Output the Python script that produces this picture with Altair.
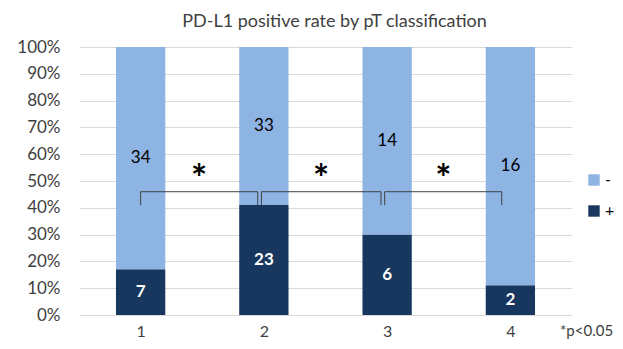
import altair as alt
import pandas as pd

# ---- data ----
categories = [1, 2, 3, 4]
positive = [7, 23, 6, 2]      # "+" (dark)
negative = [34, 33, 14, 16]   # "-" (light)

# significance brackets (x in category units, y in fraction of 100%)
bracket_from = [1.0, 1.98, 2.98]
bracket_to = [1.95, 2.95, 3.93]
bracket_top = 0.46
bracket_foot = 0.41
star_y = 0.54

y_ticks = [0.0, 0.1, 0.2, 0.3, 0.4, 0.5, 0.6, 0.7, 0.8, 0.9, 1.0]
title_text = "PD-L1 positive rate by pT classification"
note_text = "*p<0.05"

LIGHT = "#8EB4E3"
DARK = "#17375E"
TXT = "#404040"
FONT = "Lato"

rows = []
for c, p, n in zip(categories, positive, negative):
    t = p + n
    rows.append({"cat": c, "series": "+", "count": p, "y0": 0.0, "y1": p / t})
    rows.append({"cat": c, "series": "-", "count": n, "y0": p / t, "y1": 1.0})
df = pd.DataFrame(rows)

br_rows = []
for a, b in zip(bracket_from, bracket_to):
    br_rows.append({"a": a, "b": b, "top": bracket_top, "foot": bracket_foot})
br = pd.DataFrame(br_rows)
ends = pd.DataFrame(
    [{"x": v, "top": bracket_top, "foot": bracket_foot} for v in bracket_from + bracket_to]
)

xscale = alt.Scale(domain=[0.5, 4.5], nice=False, zero=False)
yscale = alt.Scale(domain=[0, 1], nice=False, zero=True)

xaxis = alt.Axis(values=categories, format="d", grid=False, domain=False, ticks=False,
                 labelFontSize=16, labelColor=TXT, labelFont=FONT, labelPadding=8, title=None)
yaxis = alt.Axis(values=y_ticks, format=".0%", grid=True,
                 gridColor="#D9D9D9", domain=False, ticks=False, labelFontSize=17,
                 labelColor=TXT, labelFont=FONT, labelPadding=19, title=None,
                 labelOverlap=False)


def X(field):
    return alt.X(field, scale=xscale, axis=xaxis)


def Y(field):
    return alt.Y(field, scale=yscale, axis=yaxis)


base = alt.Chart(df).transform_calculate(
    xl="datum.cat - 0.2", xr="datum.cat + 0.2", ym="(datum.y0 + datum.y1) / 2"
)

bars = base.mark_bar().encode(
    x=X("xl:Q"),
    x2="xr:Q",
    y=Y("y0:Q"),
    y2="y1:Q",
    color=alt.Color("series:N",
                    scale=alt.Scale(domain=["-", "+"], range=[LIGHT, DARK]),
                    legend=alt.Legend(orient="none", legendX=507, legendY=125, title=None,
                                      symbolType="square", symbolSize=130,
                                      symbolStrokeWidth=0, labelFontSize=16,
                                      labelFont=FONT, labelColor="#000000",
                                      rowPadding=15, labelOffset=3)),
)

neg_txt = base.transform_filter("datum.series == '-'").mark_text(
    font=FONT, fontSize=17, color="#000000", baseline="middle"
).encode(x=X("cat:Q"), y=Y("ym:Q"), text="count:Q")

pos_txt = base.transform_filter("datum.series == '+'").mark_text(
    font=FONT, fontSize=17, fontWeight="bold", color="#FFFFFF", baseline="middle"
).encode(x=X("cat:Q"), y=Y("ym:Q"), text="count:Q")

hrule = alt.Chart(br).mark_rule(color=TXT, strokeWidth=1).encode(
    x=X("a:Q"), x2="b:Q", y=Y("top:Q")
)
vrule = alt.Chart(ends).mark_rule(color=TXT, strokeWidth=1).encode(
    x=X("x:Q"), y=Y("top:Q"), y2="foot:Q"
)
stars = alt.Chart(br).transform_calculate(
    m="(datum.a + datum.b) / 2", sy=str(star_y), s="'*'"
).mark_text(font=FONT, fontSize=38, fontWeight="bold", color="#000000",
            baseline="middle", dy=11).encode(
    x=X("m:Q"), y=Y("sy:Q"), text="s:N"
)

note = alt.Chart(pd.DataFrame({"t": [note_text]})).mark_text(
    font=FONT, fontSize=15, color=TXT, align="left", baseline="middle"
).encode(x=alt.value(481), y=alt.value(284), text="t:N")

chart = alt.layer(bars, neg_txt, pos_txt, hrule, vrule, stars, note).properties(
    width=493, height=268,
    title=alt.TitleParams(title_text, fontSize=18, font=FONT, fontWeight="normal",
                          color=TXT, anchor="middle", dx=9, offset=7, frame="group"),
    autosize=alt.AutoSizeParams(type="none"),
    padding={"left": 71, "top": 39, "right": 43, "bottom": 26},
).configure_view(stroke=None)

chart.save("out.html", embed_options={"renderer": "svg", "actions": False})
